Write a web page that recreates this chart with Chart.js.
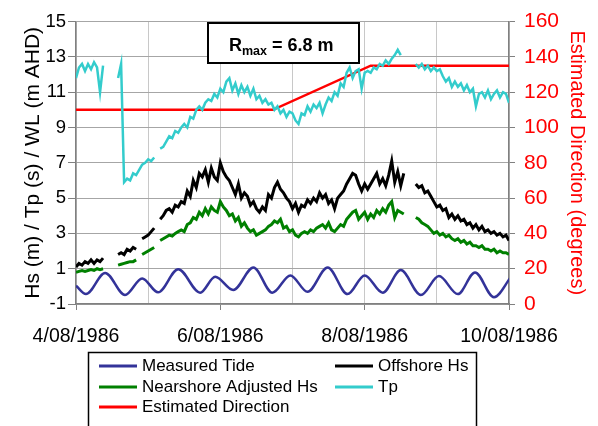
<!DOCTYPE html>
<html>
<head>
<meta charset="utf-8">
<script src="https://cdn.jsdelivr.net/npm/chart.js@4"></script>
<style>
  body { margin: 0; background: #fff; }
  canvas { display: block; }
</style>
</head>
<body>
<canvas id="waveChart" width="598" height="426"></canvas>
<script>
// hourly values from 4/08/1986 00:00 (index = hour), null = no record
const offshoreHs = [
  1.1, 1.3, 1.2, 1.4, 1.3, 1.5, 1.3, 1.5, 1.4, 1.6, null, null, null, null,
  1.8, 1.9, 1.8, 2.1, 2.0, 2.2, 2.1, null, 2.7, 2.8, 2.9, 3.1, 3.3, null,
  3.8, 4.0, 4.3, 4.4, 4.2, 4.6, 4.5, 4.8, 4.7, 5.4, 5.1, 6.0, 5.6, 6.4,
  6.2, 6.6, 5.9, 6.7, 6.2, 6.0, 7.0, 6.5, 6.2, 6.0, 5.6, 5.2, 5.8, 5.0,
  5.3, 5.1, 4.6, 4.8, 4.4, 4.2, 4.5, 4.3, 5.2, 5.0, 5.6, 5.9, 5.5, 5.3,
  5.0, 4.8, 4.4, 4.7, 4.2, 4.6, 4.5, 4.9, 4.7, 5.0, 4.8, 5.3, 5.0, 5.2,
  4.7, 4.9, 4.4, 5.0, 5.2, 5.4, 5.8, 6.1, 6.4, 6.3, 5.8, 5.4, 5.8, 5.5,
  5.8, 6.1, 6.4, 5.8, 6.1, 5.7, 6.3, 7.1, 5.9, 6.5, 5.7, 6.4, null, null,
  null, 5.8, 5.6, 5.7, 5.3, 5.4, 5.1, 4.8, 4.5, 4.6, 4.3, 4.4, 3.9, 4.1,
  3.8, 4.0, 3.7, 3.8, 3.5, 3.6, 3.3, 3.5, 3.2, 3.4, 3.1, 3.2, 3.0, 3.1,
  2.9, 3.0, 2.8, 2.9, 2.6
];
const nearshoreHs = [
  0.8, 0.85, 0.9, 0.85, 0.9, 0.95, 0.9, 1.0, 0.95, 1.0, null, null, null, null,
  1.2, 1.25, 1.3, 1.35, 1.4, 1.4, 1.5, null, 1.8, 1.9, 2.0, 2.1, 2.2, null,
  2.6, 2.7, 2.8, 2.9, 2.85, 3.0, 3.1, 3.2, 3.1, 3.5, 3.6, 3.9, 3.8, 4.2,
  4.0, 4.4, 4.1, 4.5, 4.3, 4.2, 4.8, 4.5, 4.3, 4.0, 4.1, 3.7, 3.9, 3.4,
  3.6, 3.3, 3.1, 3.2, 2.9, 3.0, 3.1, 3.2, 3.4, 3.5, 3.7, 3.6, 3.8, 3.3,
  3.4, 3.1, 3.2, 2.9, 2.8, 3.0, 3.1, 3.0, 3.2, 3.1, 3.3, 3.4, 3.5, 3.3,
  3.6, 3.2, 3.1, 3.3, 3.5, 3.4, 3.8, 4.0, 4.2, 4.3, 3.8, 4.0, 4.2, 3.8,
  4.1, 3.9, 4.3, 4.1, 4.4, 4.2, 4.6, 4.8, 3.9, 4.3, 4.2, 4.1, null, null,
  null, 3.9, 3.8, 3.6, 3.5, 3.4, 3.2, 3.0, 3.1, 2.9, 3.0, 2.8, 2.9, 2.7,
  2.6, 2.7, 2.5, 2.6, 2.4, 2.5, 2.3, 2.3, 2.2, 2.3, 2.1, 2.1, 2.0, 2.1,
  1.9, 2.0, 1.9, 1.9, 1.8
];
const peakPeriod = [
  11.8, 12.4, 12.6, 12.2, 12.6, 12.3, 12.7, 12.4, 11.0, 12.5, null, null, null, null,
  11.8, 12.6, 5.9, 6.1, 6.0, 6.4, 6.3, 6.6, 6.9, 7.0, 7.2, 7.1, 7.3, null,
  7.8, 7.9, 8.2, 8.5, 8.4, 8.8, 8.7, 9.0, 9.2, 9.0, 9.6, 9.5, 10.0, 10.2,
  10.0, 10.4, 10.6, 10.5, 10.9, 10.7, 11.2, 11.0, 11.6, 11.8, 11.1, 11.5, 10.9, 11.4,
  11.0, 11.3, 10.8, 11.2, 10.6, 10.8, 10.4, 10.6, 10.3, 10.4, 10.0, 10.2, 9.8, 10.0,
  9.6, 9.9, 9.8, 9.4, 9.2, 9.8, 9.7, 10.2, 9.9, 10.3, 10.1, 10.4, 9.8, 10.3,
  10.7, 10.5, 11.0, 10.8, 11.5, 11.3, 12.1, 12.4, 11.8, 12.2, 12.3, 11.2, 12.1, 12.2,
  12.1, 12.4, 12.3, 12.6, 12.5, 12.8, 12.6, 12.9, 13.1, 13.4, 13.1, null, null, null,
  null, 12.6, 12.4, 12.6, 12.3, 12.5, 12.2, 12.4, 12.2, 12.3, 11.9, 11.6, 11.8, 11.3,
  11.6, 11.3, 11.5, 11.1, 11.4, 11.0, 11.2, 10.2, 10.9, 11.0, 10.7, 11.1, 10.6, 10.9,
  11.1, 10.7, 11.0, 10.9, 10.4
];

// measured tide, turning points (hours from 4/08/1986 00:00)
const tideHours = [0, 3.3, 9.7, 16.3, 22, 27.3, 34, 41.3, 46.3, 52.3, 59, 65.3, 71.3,
  77, 83.7, 90.3, 96, 102, 108, 114.7, 120.7, 127, 132.7, 139, 144.7];
const tideLevel = [0.03, -0.44, 0.76, -0.49, 0.45, -0.34, 0.97, -0.36, 0.54, -0.21, 1.07, -0.36, 0.62,
  -0.31, 1.07, -0.44, 0.62, -0.36, 0.92, -0.49, 0.58, -0.44, 0.79, -0.62, 0.54];

// estimated direction (degrees)
const dirHours = [0, 65.5, 98, 144];
const dirDeg = [110, 110, 135, 135];

const dayTicks = ['4/08/1986', '6/08/1986', '8/08/1986', '10/08/1986'];

const hourly = arr => arr.map((v, i) => ({ x: i, y: v }));
const paired = (xs, ys) => xs.map((x, i) => ({ x: x, y: ys[i] }));

const FONT = "'Liberation Sans', Arial, sans-serif";

const legendBox = {
  id: 'legendBox',
  afterDraw(chart) {
    const ctx = chart.ctx;
    const slots = [[99, 366], [335, 366], [99, 387], [335, 387], [99, 407]];
    ctx.save();
    ctx.strokeStyle = '#000';
    ctx.lineWidth = 1.5;
    ctx.strokeRect(88.5, 352.5, 388, 90);
    ctx.font = '17px ' + FONT;
    ctx.textBaseline = 'middle';
    ctx.textAlign = 'left';
    chart.data.datasets.forEach(ds => {
      const [x, y] = slots[ds.legendSlot];
      ctx.strokeStyle = ds.borderColor;
      ctx.lineWidth = 3;
      ctx.beginPath();
      ctx.moveTo(x, y);
      ctx.lineTo(x + 38, y);
      ctx.stroke();
      ctx.fillStyle = '#000';
      ctx.fillText(ds.label, x + 43, y);
    });
    ctx.restore();
  }
};

const rmaxNote = {
  id: 'rmaxNote',
  afterDraw(chart) {
    const ctx = chart.ctx;
    ctx.save();
    ctx.fillStyle = '#fff';
    ctx.fillRect(208, 23, 151, 40);
    ctx.strokeStyle = '#000';
    ctx.lineWidth = 2;
    ctx.strokeRect(208, 23, 151, 40);
    ctx.fillStyle = '#000';
    ctx.textBaseline = 'alphabetic';
    ctx.font = 'bold 18px ' + FONT;
    ctx.fillText('R', 229, 51);
    let w = ctx.measureText('R').width;
    ctx.font = 'bold 12.5px ' + FONT;
    ctx.fillText('max', 229 + w, 54.5);
    w += ctx.measureText('max').width;
    ctx.font = 'bold 18px ' + FONT;
    ctx.fillText(' = 6.8 m', 229 + w, 51);
    ctx.restore();
  }
};

new Chart(document.getElementById('waveChart'), {
  type: 'line',
  data: {
    datasets: [
      {
        label: 'Measured Tide',
        data: paired(tideHours, tideLevel),
        borderColor: '#333399',
        borderWidth: 2.5,
        cubicInterpolationMode: 'monotone',
        legendSlot: 0,
        yAxisID: 'y'
      },
      {
        label: 'Offshore Hs',
        data: hourly(offshoreHs),
        borderColor: '#000000',
        borderWidth: 3,
        legendSlot: 1,
        yAxisID: 'y'
      },
      {
        label: 'Nearshore Adjusted Hs',
        data: hourly(nearshoreHs),
        borderColor: '#008000',
        borderWidth: 3,
        legendSlot: 2,
        yAxisID: 'y'
      },
      {
        label: 'Tp',
        data: hourly(peakPeriod),
        borderColor: '#33CCCC',
        borderWidth: 2.5,
        legendSlot: 3,
        yAxisID: 'y'
      },
      {
        label: 'Estimated Direction',
        data: paired(dirHours, dirDeg),
        borderColor: '#FF0000',
        borderWidth: 2.5,
        legendSlot: 4,
        yAxisID: 'y2'
      }
    ]
  },
  options: {
    responsive: false,
    animation: false,
    spanGaps: false,
    layout: { padding: { top: 20, left: 0, right: 0, bottom: 0 } },
    elements: { point: { radius: 0 }, line: { tension: 0 } },
    plugins: {
      legend: { display: false },
      tooltip: { enabled: false }
    },
    scales: {
      x: {
        type: 'linear',
        min: 0,
        max: 144,
        afterFit: s => { s.height = 122; },
        grid: {
          color: '#c8c8c8',
          lineWidth: 1,
          tickLength: 6,
          tickColor: c => (c.tick && c.tick.value % 48 === 0) ? '#808080' : 'rgba(0,0,0,0)'
        },
        border: { color: '#808080', width: 1.5 },
        ticks: {
          stepSize: 24,
          autoSkip: false,
          maxRotation: 0,
          padding: 15,
          color: '#000',
          font: { family: FONT, size: 19.5 },
          callback: v => (v % 48 === 0) ? dayTicks[v / 48] : ''
        }
      },
      y: {
        position: 'left',
        min: -1,
        max: 15,
        afterFit: s => { s.width = 76; },
        grid: { color: '#a6a6a6', lineWidth: 1, tickLength: 8, tickColor: '#808080' },
        border: { color: '#808080', width: 1.5 },
        ticks: {
          stepSize: 2,
          padding: 2,
          color: '#000',
          font: { family: FONT, size: 18.5 }
        },
        title: {
          display: true,
          text: 'Hs (m) / Tp (s) / WL (m AHD)',
          color: '#000',
          font: { family: FONT, size: 21 },
          padding: { top: 21, bottom: 0 }
        }
      },
      y2: {
        position: 'right',
        min: 0,
        max: 160,
        afterFit: s => { s.width = 89; },
        grid: { drawOnChartArea: false, tickLength: 6, tickColor: '#808080' },
        border: { color: '#808080', width: 1.5 },
        ticks: {
          stepSize: 20,
          padding: 9,
          color: '#FF0000',
          font: { family: FONT, size: 21 }
        },
        title: {
          display: true,
          text: 'Estimated Direction (degrees)',
          color: '#FF0000',
          font: { family: FONT, size: 20 },
          padding: { top: 9, bottom: 0 }
        }
      }
    }
  },
  plugins: [legendBox, rmaxNote]
});
</script>
</body>
</html>
